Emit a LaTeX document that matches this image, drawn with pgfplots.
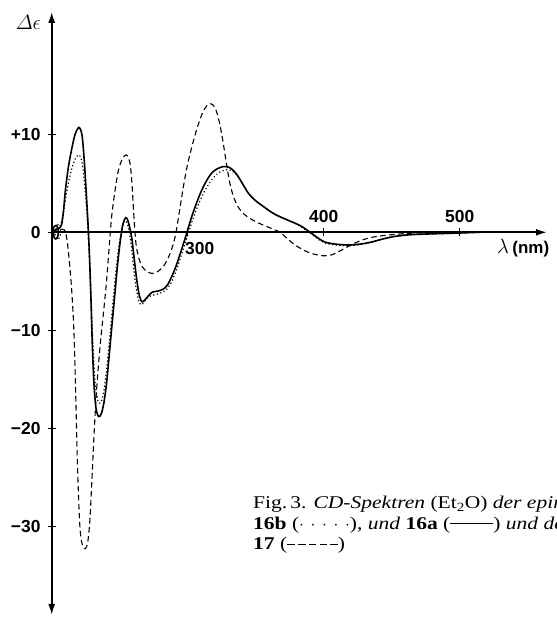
\documentclass[border=0pt]{standalone}
\usepackage{amsmath}
\usepackage{fontspec}
\setmainfont{Liberation Serif}
\setsansfont{Liberation Sans}
\newfontfamily\capfont[FakeStretch=1.2]{Liberation Serif}
\usepackage{pgfplots}
\pgfplotsset{compat=1.18}
\usetikzlibrary{arrows.meta}

\pgfplotstableread{
x y
200 -0.2
201.5 0.5
203.5 0.7
205 0.1
204 -0.6
202 -0.6
201.3 0.1
203 0.3
205.5 0.4
207.3 0.8
208.7 2.2
210 4.2
212 6.4
214 8.0
217 9.9
220 10.7
222.3 9.9
224 7.2
225.5 3.8
226.8 0.6
227.8 -2.5
228.8 -6.5
229.8 -11.2
231 -15.3
232.5 -17.9
234.5 -18.8
236.5 -18.5
238.5 -17.3
240.5 -15.2
242.5 -12.2
244.5 -9.2
246.5 -6.2
248.5 -3.2
250.5 -0.8
252.5 0.9
254.5 1.5
256 1.2
257.5 0.4
259 -0.7
260.5 -2.5
262.5 -4.8
264.5 -6.5
266.5 -7.1
268.5 -6.9
271 -6.5
274 -6.1
278 -6.0
282 -5.8
285 -5.4
288 -4.6
291 -3.6
294 -2.4
297 -1.1
299.5 0
302.5 1.4
306 2.8
310 4.2
314 5.3
318 6.1
322 6.5
326 6.7
329 6.7
332 6.5
335 6.1
338 5.5
341 4.8
344 4.1
347 3.6
351 3.1
356 2.6
361 2.1
366 1.7
371 1.4
376 1.1
381 0.8
385 0.5
389 0.1
393 -0.3
397 -0.7
401 -1.0
406 -1.15
412 -1.25
419 -1.3
427 -1.2
435 -1.0
443 -0.7
451 -0.45
459 -0.3
467 -0.22
477 -0.17
488 -0.12
498 -0.08
508 -0.03
515 0
}\solidA

\pgfplotstableread{
x y
200 0
202 0.6
204.5 0.8
206.5 0.2
206 -0.5
204 -0.7
202.5 -0.2
203.5 0.3
206 0.6
207.5 1.2
209 2.4
211 4.1
213 5.5
215 6.6
217 7.4
219.5 7.9
221.5 7.6
223 6.5
224.5 4.5
226 1.8
227.5 -2.0
229 -7.0
230.5 -12.0
232 -15.4
234 -17.2
236 -17.4
238 -16.5
240 -14.5
242 -11.8
244 -8.8
246 -5.8
248 -3.0
250 -0.9
252 0.6
254 1.2
255.5 0.9
257 0.1
258.5 -1.3
260 -3.3
262 -5.6
264 -7.0
266 -7.4
268 -7.1
271 -6.6
275 -6.4
280 -6.2
284 -5.9
288 -5.1
291 -4.1
294 -2.9
297 -1.6
300 -0.3
303 1.0
306 2.2
310 3.5
314 4.6
318 5.4
322 6.0
326 6.3
329 6.4
332 6.3
335 6.0
338 5.5
341 4.8
344 4.1
347 3.6
351 3.1
356 2.6
361 2.1
366 1.7
371 1.4
376 1.1
381 0.8
385 0.4
389 0.0
393 -0.4
397 -0.8
401 -1.1
406 -1.25
412 -1.35
419 -1.35
427 -1.25
435 -1.0
443 -0.7
451 -0.45
459 -0.3
467 -0.2
480 -0.15
495 -0.1
510 0
}\dottedB

\pgfplotstableread{
x y
200 0
205 0.2
208 0.3
210 0.1
211.5 -1.0
213 -3.0
214.5 -5.5
216 -9.0
217 -13.0
218 -18.5
219 -24.0
220.5 -29.5
222 -31.6
224.5 -32.3
226.5 -31.6
228 -29.5
229.5 -25.5
231 -21.0
232.5 -17.2
234 -14.2
236 -11.0
238 -8.3
240 -5.5
242 -2.0
244 1.5
246.5 4.2
249 6.3
252 7.5
255 7.9
257.5 7.1
259 5.0
260.5 1.5
262 -1.2
264 -2.6
266.5 -3.5
270 -4.0
274 -4.2
278 -4.0
282 -3.5
285 -2.8
288 -1.8
291 -0.3
294 2.2
297 4.8
300 7.0
303 8.7
306 10.2
309 11.5
312 12.5
315.5 13.1
318.5 13.0
321 12.4
323.5 11.1
326 9.2
328.5 7.0
331 5.0
334 3.5
337 2.6
341 1.9
346 1.4
352 0.95
358 0.6
364 0.25
368 0
372 -0.5
378 -1.2
385 -1.8
392 -2.2
400 -2.4
406 -2.3
412 -1.9
420 -1.3
428 -0.8
436 -0.5
446 -0.3
458 -0.15
470 -0.05
480 0
}\dashedC

\newcommand\dsh{\rule[0.3em]{0.42em}{0.06em}\hspace{0.18em}}

\begin{document}
\begin{tikzpicture}[x=1bp,y=1bp]
\useasboundingbox (0,0) rectangle (557,617);
\begin{axis}[
  at={(51.7bp,2bp)}, anchor=south west,
  x=1.36bp, y=9.8bp,
  xmin=200, xmax=564.2, ymin=-39.05, ymax=22.5,
  axis x line=middle, axis y line=left,
  axis line style={line width=1.8bp},
  x axis line style={-{Latex[length=11bp,width=7bp]}},
  y axis line style={{Latex[length=11bp,width=7bp]}-{Latex[length=11bp,width=7bp]}},
  xtick={300,400,500}, xticklabels={},
  ytick={-30,-20,-10,0,10},
  yticklabels={−30,−20,−10,0,+10},
  yticklabel style={font=\sffamily\bfseries\fontsize{17.5}{17.5}\selectfont, inner sep=0pt, xshift=-7bp},
  tick align=center, major tick length=8bp,
  tick style={line width=1.3bp, black},
]
\addplot[black, line width=1.6bp, smooth, tension=0.5] table {\solidA};
\addplot[black, line width=1.7bp, line cap=round, dash pattern=on 0.01bp off 3.6bp, smooth, tension=0.5] table {\dottedB};
\addplot[black, line width=1.1bp, dash pattern=on 5.5bp off 3.5bp, smooth, tension=0.5] table {\dashedC};
\node[anchor=north west, inner sep=0pt, font=\sffamily\bfseries\fontsize{17.5}{17.5}\selectfont] at (axis cs:298,-1.0) {300};
\node[anchor=south, inner sep=0pt, font=\sffamily\bfseries\fontsize{17.5}{17.5}\selectfont] at (axis cs:400,1.0) {400};
\node[anchor=south, inner sep=0pt, font=\sffamily\bfseries\fontsize{17.5}{17.5}\selectfont] at (axis cs:500,1.0) {500};
\end{axis}
\node[anchor=east, inner sep=0pt, font=\fontsize{20}{20}\selectfont] at (41,595) {$\varDelta\epsilon$};
\node[anchor=west, inner sep=0pt] at (497,369) {\fontsize{21}{21}\selectfont$\lambda$\,\sffamily\bfseries\fontsize{17}{17}\selectfont(nm)};
\begin{scope}
\clip (0,0) rectangle (557,617);
\node[anchor=base west, inner sep=0pt, font=\capfont\fontsize{18}{18}\selectfont] at (253,108)
{Fig.\,3. \textit{CD-Spektren} (Et\textsubscript{2}O) \textit{der epimeren}};
\node[anchor=base west, inner sep=0pt, font=\capfont\fontsize{18}{18}\selectfont] at (253,87.5)
{\textbf{16b} ($\cdot\,\cdot\,\cdot\,\cdot\,\cdot$), \textit{und} \textbf{16a} (\rule[0.3em]{2.4em}{0.06em}) \textit{und des}};
\node[anchor=base west, inner sep=0pt, font=\capfont\fontsize{18}{18}\selectfont] at (253,67)
{\textbf{17} (\dsh\dsh\dsh\dsh\rule[0.3em]{0.42em}{0.06em})};
\end{scope}
\end{tikzpicture}
\end{document}
